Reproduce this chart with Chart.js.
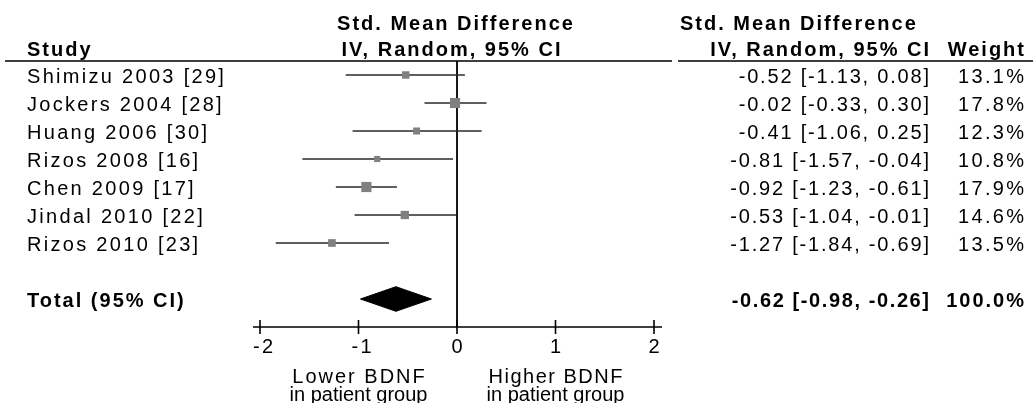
<!DOCTYPE html>
<html>
<head>
<meta charset="utf-8">
<script src="https://cdn.jsdelivr.net/npm/chart.js@4/dist/chart.umd.min.js"></script>
<style>
  html, body { margin: 0; padding: 0; background: #fff; }
  #wrap { width: 1033px; height: 403px; }
</style>
</head>
<body>
<div id="wrap"><canvas id="forest" width="1033" height="403"></canvas></div>
<script>
// Datos del forest plot
const studies = ['Shimizu 2003 [29]', 'Jockers 2004 [28]', 'Huang 2006 [30]', 'Rizos 2008 [16]',
                 'Chen 2009 [17]', 'Jindal 2010 [22]', 'Rizos 2010 [23]'];
const smd     = [-0.52, -0.02, -0.41, -0.81, -0.92, -0.53, -1.27];
const ciLow   = [-1.13, -0.33, -1.06, -1.57, -1.23, -1.04, -1.84];
const ciHigh  = [0.08, 0.30, 0.25, -0.04, -0.61, -0.01, -0.69];
const weights = [13.1, 17.8, 12.3, 10.8, 17.9, 14.6, 13.5];
const totalLabel = 'Total (95% CI)';
const totalSmd  = -0.62;
const totalLow  = -0.98;
const totalHigh = -0.26;
const totalWeight = 100.0;
const xTicks = [-2, -1, 0, 1, 2];
const leftLabel  = ['Lower BDNF', 'in patient group'];
const rightLabel = ['Higher BDNF', 'in patient group'];

const TOTAL_ROW = studies.length + 1;
const AXIS_ROW = studies.length + 2;
const FONT = '"Liberation Sans", Arial, sans-serif';
const INK = '#000';

const fmt = v => v.toFixed(2);
const ciText = (e, l, h) => fmt(e) + ' [' + fmt(l) + ', ' + fmt(h) + ']';

// Selectores
const ctx = document.getElementById('forest');

// Lineas de intervalo de confianza
const ciSets = studies.map((s, i) => ({
    label: s,
    data: [{x: ciLow[i], y: i}, {x: ciHigh[i], y: i}],
    showLine: true,
    borderColor: '#2a2a2a',
    borderWidth: 1.6,
    pointRadius: 0,
    order: 3
}));

const textPlugin = {
    id: 'forestText',
    afterDraw(chart) {
        const c = chart.ctx;
        const xs = chart.scales.x;
        const ys = chart.scales.y;
        const px = v => xs.getPixelForValue(v);
        const py = v => ys.getPixelForValue(v);

        c.save();
        c.fillStyle = INK;
        c.strokeStyle = INK;
        c.textBaseline = 'middle';

        const put = (t, x, y, align, bold, sp) => {
            const s = sp === undefined ? (bold ? 2 : 2.3) : sp;
            c.font = (bold ? 'bold ' : '') + '20px ' + FONT;
            c.letterSpacing = s + 'px';
            c.textAlign = align;
            let xx = x;
            if (align === 'right') xx = x + s;
            if (align === 'center') xx = x + s / 2;
            c.fillText(t, xx, y);
        };

        // Encabezados
        const midPlot = (px(xTicks[0]) + px(xTicks[xTicks.length - 1])) / 2;
        put('Std. Mean Difference', midPlot - 2, 24, 'center', true);
        put('IV, Random, 95% CI', midPlot - 6, 50, 'center', true);
        put('Study', 27, 50, 'left', true);
        put('Std. Mean Difference', 680, 24, 'left', true);
        put('IV, Random, 95% CI', 929, 50, 'right', true);
        put('Weight', 1024, 50, 'right', true);

        c.lineWidth = 1.6;
        const yHead = py(-0.5);
        c.beginPath();
        c.moveTo(5, yHead); c.lineTo(672, yHead);
        c.moveTo(678, yHead); c.lineTo(1033, yHead);
        c.stroke();

        // Filas de estudios
        studies.forEach((s, i) => {
            const y = py(i) + 2;
            put(s, 27, y, 'left', false);
            put(ciText(smd[i], ciLow[i], ciHigh[i]), 929, y, 'right', false, 1.8);
            put(weights[i].toFixed(1) + '%', 1024, y, 'right', false);
        });

        // Total
        const yt = py(TOTAL_ROW) + 2;
        put(totalLabel, 27, yt, 'left', true);
        put(ciText(totalSmd, totalLow, totalHigh), 929, yt, 'right', true, 1.6);
        put(totalWeight.toFixed(1) + '%', 1024, yt, 'right', true);

        // Eje x
        const ya = py(AXIS_ROW);
        c.lineWidth = 1.6;
        c.beginPath();
        c.moveTo(px(xTicks[0]) - 7, ya);
        c.lineTo(px(xTicks[xTicks.length - 1]) + 8, ya);
        xTicks.forEach(t => {
            c.moveTo(px(t), ya - 7);
            c.lineTo(px(t), ya + 7);
        });
        c.stroke();
        xTicks.forEach(t => put(String(t), px(t) + (t < 0 ? 3 : 0), ya + 20, 'center', false));

        put(leftLabel[0], px(-1), ya + 50, 'center', false, 2);
        put(leftLabel[1], px(-1), ya + 68, 'center', false, 0);
        put(rightLabel[0], px(1), ya + 50, 'center', false, 1.5);
        put(rightLabel[1], px(1), ya + 68, 'center', false, 0);
        c.restore();
    }
};

new Chart(ctx, {
    type: 'scatter',
    data: {
        datasets: [
            {
                label: 'SMD',
                data: smd.map((v, i) => ({x: v, y: i})),
                pointStyle: 'rect',
                pointRadius: weights.map(w => w * 0.57 / Math.SQRT2),
                backgroundColor: '#808080',
                borderColor: '#808080',
                borderWidth: 0,
                order: 1
            },
            {
                label: 'Total',
                data: [
                    {x: totalLow, y: TOTAL_ROW},
                    {x: totalSmd, y: TOTAL_ROW - 0.44},
                    {x: totalHigh, y: TOTAL_ROW},
                    {x: totalSmd, y: TOTAL_ROW + 0.44},
                    {x: totalLow, y: TOTAL_ROW}
                ],
                showLine: true,
                fill: 'shape',
                backgroundColor: '#000',
                borderColor: '#000',
                borderWidth: 1,
                pointRadius: 0,
                tension: 0,
                order: 2
            },
            ...ciSets,
            {
                label: 'zero',
                data: [{x: 0, y: -0.5}, {x: 0, y: AXIS_ROW}],
                showLine: true,
                borderColor: INK,
                borderWidth: 1.8,
                pointRadius: 0,
                clip: false,
                order: 4
            }
        ]
    },
    options: {
        responsive: false,
        animation: false,
        layout: { padding: { left: 260, right: 379, top: 61, bottom: 76 } },
        plugins: { legend: { display: false }, tooltip: { enabled: false } },
        scales: {
            x: { type: 'linear', min: xTicks[0], max: xTicks[xTicks.length - 1], display: false },
            y: { type: 'linear', min: -0.5, max: AXIS_ROW, reverse: true, display: false }
        }
    },
    plugins: [textPlugin]
});
</script>
</body>
</html>
